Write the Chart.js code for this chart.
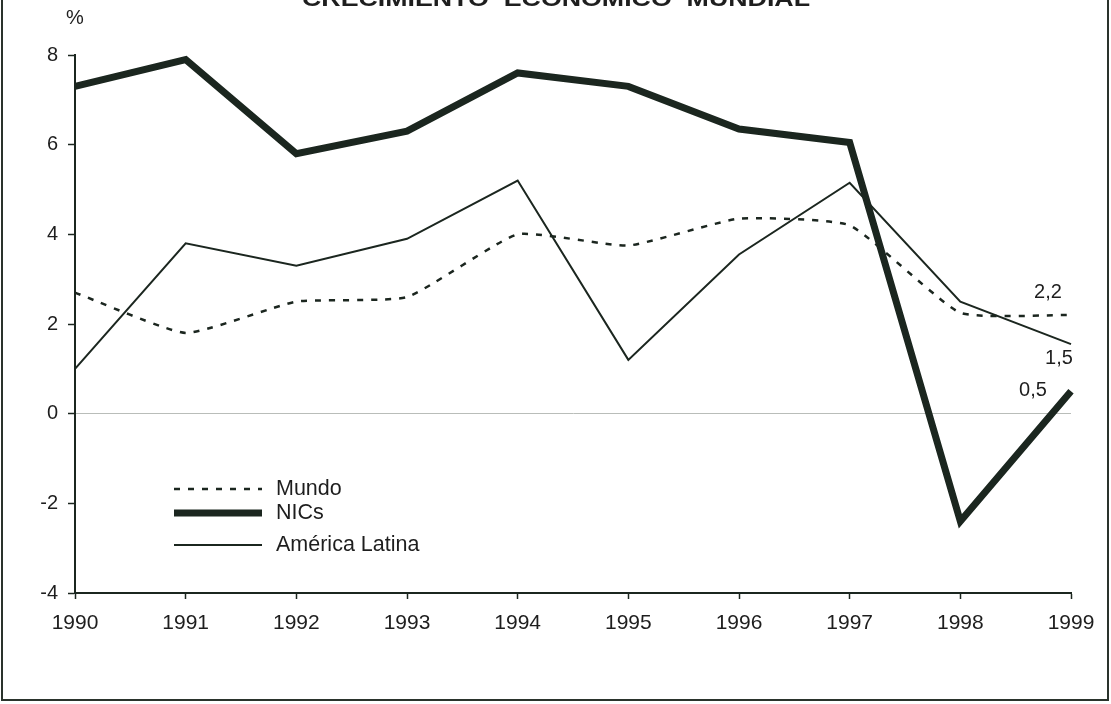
<!DOCTYPE html>
<html>
<head>
<meta charset="utf-8">
<script src="https://cdn.jsdelivr.net/npm/chart.js@4.4.1/dist/chart.umd.min.js"></script>
<style>
  html, body { margin: 0; padding: 0; background: #fff; }
  #wrap { width: 1111px; height: 704px; position: relative; }
</style>
</head>
<body>
<div id="wrap"><canvas id="chart" width="1111" height="704"></canvas></div>
<script>
const years = ['1990', '1991', '1992', '1993', '1994', '1995', '1996', '1997', '1998', '1999'];
const mundo = [2.7, 1.8, 2.5, 2.6, 4.0, 3.75, 4.35, 4.2, 2.25, 2.2];
const nics = [7.3, 7.9, 5.8, 6.3, 7.6, 7.3, 6.35, 6.05, -2.4, 0.5];
const latina = [1.0, 3.8, 3.3, 3.9, 5.2, 1.2, 3.55, 5.15, 2.5, 1.55];
const yTicks = [-4, -2, 0, 2, 4, 6, 8];
const endLabels = ['2,2', '0,5', '1,5'];

const ink = '#1b261f';
const textColor = '#1e1e1e';
const fontFam = '"Liberation Sans", Arial, sans-serif';

// frame, title (cut off at top), % label
const decor = {
  id: 'decor',
  beforeDraw(chart) {
    const ctx = chart.ctx;
    ctx.save();
    ctx.fillStyle = '#fff';
    ctx.fillRect(0, 0, chart.width, chart.height);
    ctx.strokeStyle = '#2a332c';
    ctx.lineWidth = 2;
    ctx.strokeRect(2, -10, 1106, 710);
    ctx.restore();
  },
  afterDraw(chart) {
    const ctx = chart.ctx;
    ctx.save();
    ctx.fillStyle = textColor;
    ctx.font = 'bold 22px ' + fontFam;
    ctx.textBaseline = 'alphabetic';
    ctx.textAlign = 'left';
    const title = 'CRECIMIENTO  ECONOMICO  MUNDIAL';
    const w = ctx.measureText(title).width;
    ctx.translate(302, 6);
    ctx.scale(508 / w, 1);
    ctx.fillText(title, 0, 0);
    ctx.restore();

    ctx.save();
    ctx.fillStyle = textColor;
    ctx.font = '20px ' + fontFam;
    ctx.textAlign = 'center';
    ctx.textBaseline = 'middle';
    ctx.fillText('%', 75, 18);
    ctx.restore();
  }
};

// custom legend inside the plot and end-value labels
const notes = {
  id: 'notes',
  afterDatasetsDraw(chart) {
    const ctx = chart.ctx;
    const rows = [489, 513, 545];
    ctx.save();
    chart.data.datasets.forEach((ds, i) => {
      ctx.beginPath();
      ctx.strokeStyle = ds.borderColor;
      ctx.lineWidth = ds.borderWidth;
      ctx.setLineDash(ds.borderDash || []);
      ctx.lineCap = 'butt';
      ctx.moveTo(174, rows[i]);
      ctx.lineTo(262, rows[i]);
      ctx.stroke();
      ctx.setLineDash([]);
      ctx.fillStyle = textColor;
      ctx.font = '21.5px ' + fontFam;
      ctx.textAlign = 'left';
      ctx.textBaseline = 'middle';
      ctx.fillText(ds.label, 276, rows[i]);
    });

    const x = chart.scales.x;
    const y = chart.scales.y;
    const last = years.length - 1;
    const px = x.getPixelForValue(last);
    ctx.fillStyle = textColor;
    ctx.font = '20px ' + fontFam;
    ctx.textAlign = 'center';
    ctx.textBaseline = 'middle';
    ctx.fillText(endLabels[0], px - 23, y.getPixelForValue(mundo[last]) - 23);
    ctx.fillText(endLabels[2], px - 12, y.getPixelForValue(latina[last]) + 14);
    ctx.fillText(endLabels[1], px - 38, y.getPixelForValue(nics[last]) - 1);
    ctx.restore();
  }
};

new Chart(document.getElementById('chart'), {
  type: 'line',
  data: {
    labels: years,
    datasets: [
      {
        label: 'Mundo',
        data: mundo,
        borderColor: ink,
        borderWidth: 2.5,
        borderDash: [6, 8],
        tension: 0.15,
        pointRadius: 0,
        fill: false,
      },
      {
        label: 'NICs',
        data: nics,
        borderColor: ink,
        borderWidth: 7,
        borderJoinStyle: 'miter',
        tension: 0,
        pointRadius: 0,
        fill: false,
      },
      {
        label: 'América Latina',
        data: latina,
        borderColor: ink,
        borderWidth: 2,
        tension: 0,
        pointRadius: 0,
        fill: false,
      },
    ],
  },
  options: {
    responsive: false,
    animation: false,
    layout: {
      padding: { top: 55, right: 40, left: 0, bottom: 0 },
    },
    plugins: {
      legend: { display: false },
      tooltip: { enabled: false },
      title: { display: false },
    },
    scales: {
      x: {
        offset: false,
        afterFit(scale) { scale.height = 111; },
        border: { color: ink, width: 2 },
        grid: {
          color: 'transparent',
          tickColor: ink,
          tickLength: 6,
          tickWidth: 1.5,
          drawOnChartArea: false,
        },
        ticks: {
          color: textColor,
          font: { family: fontFam, size: 21 },
          padding: 12,
          maxRotation: 0,
          autoSkip: false,
        },
      },
      y: {
        min: -4,
        max: 8,
        afterFit(scale) { scale.width = 75; },
        afterBuildTicks(scale) { scale.ticks = yTicks.map(v => ({ value: v })); },
        border: { color: ink, width: 2 },
        grid: {
          color: ctx => (ctx.tick && ctx.tick.value === 0 ? '#b9bdb9' : 'transparent'),
          lineWidth: 1,
          tickColor: ink,
          tickLength: 7,
          tickWidth: 1.5,
        },
        ticks: {
          color: textColor,
          font: { family: fontFam, size: 20 },
          padding: 10,
        },
      },
    },
  },
  plugins: [decor, notes],
});
</script>
</body>
</html>
